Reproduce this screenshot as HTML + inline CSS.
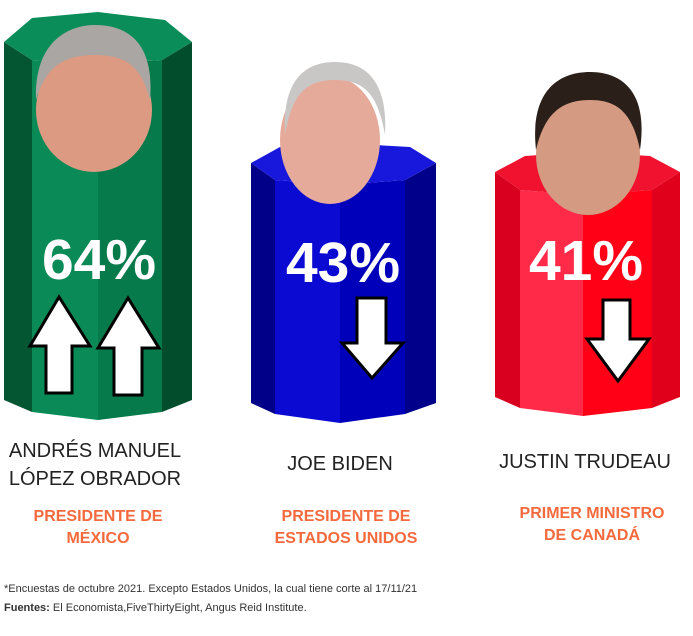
<!DOCTYPE html>
<html><head><meta charset="utf-8"><style>
html,body{margin:0;padding:0;background:#fff;}
svg{display:block;}
text{font-family:"Liberation Sans","DejaVu Sans",sans-serif;}
</style></head><body>
<svg width="693" height="636" viewBox="0 0 693 636" xmlns="http://www.w3.org/2000/svg">
<!-- GREEN -->
<g>
<polygon points="4,42 4,400 32,412 32,60" fill="#045632"/>
<polygon points="32,60 32,412 98,420 98,64" fill="#0a8a56"/>
<polygon points="98,64 98,420 162,412 162,60" fill="#067a4a"/>
<polygon points="162,60 162,412 192,400 192,42" fill="#024e2c"/>
<polygon points="4,42 32,18 98,12 165,20 192,42 162,60 98,64 32,60" fill="#0b8d59"/>
</g>
<!-- BLUE -->
<g>
<polygon points="251,163 251,403 275,414 275,180" fill="#000088"/>
<polygon points="275,180 275,414 340,423 340,185" fill="#0a0ad2"/>
<polygon points="340,185 340,423 405,414 405,180" fill="#0000bb"/>
<polygon points="405,180 405,414 436,403 436,163" fill="#00008a"/>
<polygon points="251,163 280,147 340,143 410,147 436,163 405,180 340,185 275,180" fill="#1818dc"/>
</g>
<!-- RED -->
<g>
<polygon points="495,172 495,397 520,408 520,190" fill="#d8001e"/>
<polygon points="520,190 520,408 583,416 583,195" fill="#ff2a48"/>
<polygon points="583,195 583,416 652,408 652,190" fill="#ff0016"/>
<polygon points="652,190 652,408 680,397 680,172" fill="#e0001c"/>
<polygon points="495,172 525,156 585,152 650,156 680,172 652,190 583,195 520,190" fill="#f0122e"/>
</g>
<!-- heads -->
<g>
<ellipse cx="94" cy="110" rx="58" ry="62" fill="#dc9a82"/>
<path d="M36,100 C34,40 70,25 95,25 C125,25 155,40 150,100 C142,70 130,55 95,55 C60,55 45,70 36,100Z" fill="#a9a6a3"/>
<ellipse cx="330" cy="140" rx="50" ry="64" fill="#e6aa9a"/>
<path d="M285,135 C282,80 305,62 335,62 C365,62 388,80 385,135 C378,95 365,80 335,80 C305,80 292,95 285,135Z" fill="#c9c7c6"/>
<ellipse cx="588" cy="155" rx="52" ry="60" fill="#d49a82"/>
<path d="M536,150 C530,95 555,72 590,72 C625,72 648,95 640,150 C632,110 615,100 590,100 C565,100 545,110 536,150Z" fill="#2a1f19"/>
</g>
<!-- percents -->
<g fill="#fff" font-weight="bold" font-size="57" text-anchor="middle">
<text x="99" y="279">64%</text>
<text x="343" y="282">43%</text>
<text x="586" y="280">41%</text>
</g>
<!-- arrows -->
<g fill="#fff" stroke="#000" stroke-width="3" stroke-linejoin="miter">
<polygon points="59,297 30,346 46,346 46,393 72,393 72,346 90,346"/>
<polygon points="128,298 98,348 114,348 114,395 142,395 142,348 159,348"/>
<polygon points="357,298 386,298 386,343 403,343 372,378 342,343 357,343"/>
<polygon points="603,300 630,300 630,339 649,339 618,381 587,339 603,339"/>
</g>
<!-- names -->
<g fill="#222" font-size="20" text-anchor="middle">
<text x="95" y="457">ANDRÉS MANUEL</text>
<text x="95" y="485">LÓPEZ OBRADOR</text>
<text x="340" y="470">JOE BIDEN</text>
<text x="585" y="468">JUSTIN TRUDEAU</text>
</g>
<g fill="#f46a3c" font-size="16" text-anchor="middle" font-weight="bold">
<text x="98" y="521">PRESIDENTE DE</text>
<text x="98" y="543">MÉXICO</text>
<text x="346" y="521">PRESIDENTE DE</text>
<text x="346" y="543">ESTADOS UNIDOS</text>
<text x="592" y="518">PRIMER MINISTRO</text>
<text x="592" y="540">DE CANADÁ</text>
</g>
<g fill="#333" font-size="11">
<text x="4" y="592">*Encuestas de octubre 2021. Excepto Estados Unidos, la cual tiene corte al 17/11/21</text>
<text x="4" y="611"><tspan font-weight="bold">Fuentes:</tspan> El Economista,FiveThirtyEight, Angus Reid Institute.</text>
</g>
</svg>
</body></html>
